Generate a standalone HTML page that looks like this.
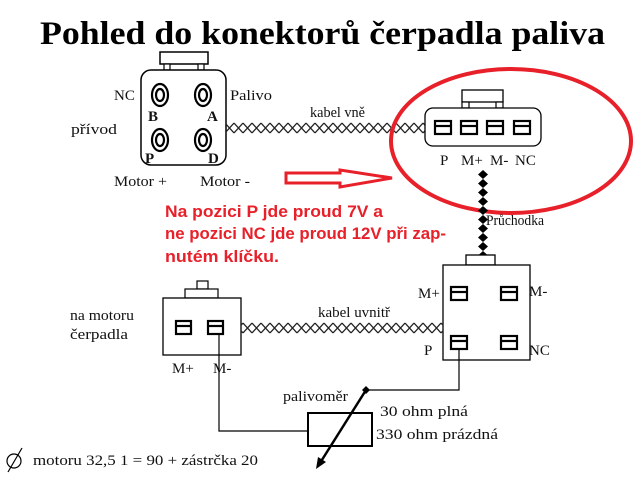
<!DOCTYPE html>
<html><head><meta charset="utf-8"><style>
html,body{margin:0;padding:0;background:#fff}
svg{display:block}
.s{font-family:"Liberation Serif",serif;font-size:15px;fill:#111}
.r{font-family:"Liberation Sans",sans-serif;font-size:17px;font-weight:bold;fill:#e8202a}
</style></head><body>
<svg width="634" height="477" viewBox="0 0 634 477" xmlns="http://www.w3.org/2000/svg">
<defs>
<pattern id="hx" x="0" y="122" width="9" height="12" patternUnits="userSpaceOnUse">
<path d="M0,1 L9,11 M0,11 L9,1" stroke="#222" stroke-width="1.3" fill="none"/>
</pattern>
<pattern id="hx2" x="0" y="322" width="9" height="12" patternUnits="userSpaceOnUse">
<path d="M0,1 L9,11 M0,11 L9,1" stroke="#222" stroke-width="1.3" fill="none"/>
</pattern>
<pattern id="vx" x="477" y="170" width="12" height="9" patternUnits="userSpaceOnUse">
<path d="M6,0 L11,4.5 L6,9 L1,4.5Z" fill="#000"/>
</pattern>
</defs>
<text x="40" y="44" font-family="Liberation Serif,serif" font-weight="bold" font-size="33" fill="#000" textLength="565" lengthAdjust="spacingAndGlyphs">Pohled do konektorů čerpadla paliva</text>

<!-- top left connector -->
<rect x="160" y="52" width="48" height="12" fill="#fff" stroke="#000" stroke-width="1.5"/>
<rect x="164" y="64" width="6" height="6" fill="#fff" stroke="#000" stroke-width="1.2"/>
<rect x="198" y="64" width="6" height="6" fill="#fff" stroke="#000" stroke-width="1.2"/>
<rect x="141" y="70" width="85" height="95" rx="10" fill="#fff" stroke="#000" stroke-width="1.5"/>
<g fill="none" stroke="#000" stroke-width="2.2">
<ellipse cx="160" cy="95" rx="8" ry="11"/><ellipse cx="160" cy="95" rx="4" ry="6"/>
<ellipse cx="203" cy="95" rx="8" ry="11"/><ellipse cx="203" cy="95" rx="4" ry="6"/>
<ellipse cx="160" cy="140" rx="8" ry="11"/><ellipse cx="160" cy="140" rx="4" ry="6"/>
<ellipse cx="203" cy="140" rx="8" ry="11"/><ellipse cx="203" cy="140" rx="4" ry="6"/>
</g>
<text x="148" y="121" class="s" style="font-weight:bold;font-size:15px">B</text>
<text x="207" y="121" class="s" style="font-weight:bold;font-size:15px">A</text>
<text x="145" y="163" class="s" style="font-weight:bold;font-size:15px">P</text>
<text x="208" y="163" class="s" style="font-weight:bold;font-size:15px">D</text>
<text x="114" y="100" class="s">NC</text>
<text x="230" y="100" class="s" textLength="42" lengthAdjust="spacingAndGlyphs">Palivo</text>
<text x="71" y="134" class="s" textLength="46" lengthAdjust="spacingAndGlyphs">přívod</text>
<text x="114" y="186" class="s" textLength="53" lengthAdjust="spacingAndGlyphs">Motor +</text>
<text x="200" y="186" class="s" textLength="50" lengthAdjust="spacingAndGlyphs">Motor -</text>

<rect x="226" y="122" width="199" height="12" fill="url(#hx)"/>
<text x="310" y="117" class="s" textLength="55" lengthAdjust="spacingAndGlyphs">kabel vně</text>

<!-- top right connector -->
<rect x="462" y="90" width="41" height="12" fill="#fff" stroke="#000" stroke-width="1.3"/>
<rect x="462" y="102" width="7" height="6" fill="#fff" stroke="#000" stroke-width="1.2"/>
<rect x="496" y="102" width="7" height="6" fill="#fff" stroke="#000" stroke-width="1.2"/>
<rect x="425" y="108" width="116" height="38" rx="8" fill="#fff" stroke="#000" stroke-width="1.3"/>
<g fill="none" stroke="#000" stroke-width="2.2">
<rect x="435" y="121" width="16" height="13"/><line x1="435" y1="126" x2="451" y2="126"/>
<rect x="461" y="121" width="16" height="13"/><line x1="461" y1="126" x2="477" y2="126"/>
<rect x="487" y="121" width="16" height="13"/><line x1="487" y1="126" x2="503" y2="126"/>
<rect x="514" y="121" width="16" height="13"/><line x1="514" y1="126" x2="530" y2="126"/>
</g>
<text x="440" y="165" class="s">P</text>
<text x="461" y="165" class="s">M+</text>
<text x="490" y="165" class="s">M-</text>
<text x="515" y="165" class="s">NC</text>
<ellipse cx="511" cy="141" rx="120" ry="72" fill="none" stroke="#e8202a" stroke-width="4"/>

<rect x="477" y="170" width="12" height="85" fill="url(#vx)"/>
<text x="486" y="225" class="s" textLength="58" lengthAdjust="spacingAndGlyphs">Průchodka</text>

<!-- red arrow -->
<path d="M286,173 L340,173 L340,170 L392,178 L340,187 L340,183 L286,183 Z" fill="#fff" stroke="#e8202a" stroke-width="3"/>
<text x="165" y="217" class="r" textLength="218" lengthAdjust="spacingAndGlyphs">Na pozici P jde proud 7V a</text>
<text x="165" y="239" class="r" textLength="281" lengthAdjust="spacingAndGlyphs">ne pozici NC jde proud 12V při zap-</text>
<text x="165" y="262" class="r" textLength="114" lengthAdjust="spacingAndGlyphs">nutém klíčku.</text>

<!-- lower right connector -->
<rect x="466" y="255" width="29" height="10" fill="#fff" stroke="#000" stroke-width="1.3"/>
<rect x="443" y="265" width="87" height="95" fill="#fff" stroke="#000" stroke-width="1.3"/>
<g fill="none" stroke="#000" stroke-width="2.2">
<rect x="451" y="287" width="16" height="13"/><line x1="451" y1="292" x2="467" y2="292"/>
<rect x="501" y="287" width="16" height="13"/><line x1="501" y1="292" x2="517" y2="292"/>
<rect x="451" y="336" width="16" height="13"/><line x1="451" y1="341" x2="467" y2="341"/>
<rect x="501" y="336" width="16" height="13"/><line x1="501" y1="341" x2="517" y2="341"/>
</g>
<text x="418" y="298" class="s">M+</text>
<text x="529" y="296" class="s">M-</text>
<text x="424" y="355" class="s">P</text>
<text x="529" y="355" class="s">NC</text>

<!-- lower left connector -->
<rect x="197" y="281" width="11" height="8" fill="#fff" stroke="#000" stroke-width="1.2"/>
<rect x="185" y="289" width="33" height="9" fill="#fff" stroke="#000" stroke-width="1.2"/>
<rect x="163" y="298" width="78" height="57" fill="#fff" stroke="#000" stroke-width="1.3"/>
<g fill="none" stroke="#000" stroke-width="2.2">
<rect x="176" y="321" width="15" height="13"/><line x1="176" y1="326" x2="191" y2="326"/>
<rect x="208" y="321" width="15" height="13"/><line x1="208" y1="326" x2="223" y2="326"/>
</g>
<text x="70" y="320" class="s" textLength="64" lengthAdjust="spacingAndGlyphs">na motoru</text>
<text x="70" y="339" class="s" textLength="58" lengthAdjust="spacingAndGlyphs">čerpadla</text>
<text x="172" y="373" class="s">M+</text>
<text x="213" y="373" class="s">M-</text>
<rect x="241" y="322" width="202" height="12" fill="url(#hx2)"/>
<text x="318" y="317" class="s" textLength="72" lengthAdjust="spacingAndGlyphs">kabel uvnitř</text>

<!-- wires -->
<polyline points="219,334 219,431 308,431" fill="none" stroke="#000" stroke-width="1.2"/>
<polyline points="459,349 459,390 366,390" fill="none" stroke="#000" stroke-width="1.2"/>
<rect x="308" y="413" width="64" height="33" fill="none" stroke="#000" stroke-width="2"/>
<line x1="366" y1="390" x2="320" y2="463" stroke="#000" stroke-width="2.5"/>
<path d="M316,469 L318,457 L326,462 Z" fill="#000"/>
<path d="M366,386 L370,390 L366,394 L362,390 Z" fill="#000"/>
<text x="283" y="401" class="s" textLength="65" lengthAdjust="spacingAndGlyphs">palivoměr</text>
<text x="380" y="416" class="s" textLength="88" lengthAdjust="spacingAndGlyphs">30 ohm plná</text>
<text x="376" y="439" class="s" textLength="122" lengthAdjust="spacingAndGlyphs">330 ohm prázdná</text>

<circle cx="14" cy="461" r="7" fill="none" stroke="#000" stroke-width="1.2"/>
<line x1="8" y1="472" x2="22" y2="448" stroke="#000" stroke-width="1.2"/>
<text x="33" y="465" class="s" textLength="225" lengthAdjust="spacingAndGlyphs">motoru 32,5 1 = 90 + zástrčka 20</text>
</svg>
</body></html>
